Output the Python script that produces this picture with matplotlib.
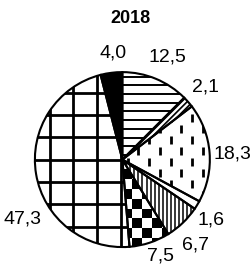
import numpy as np
import matplotlib
matplotlib.use("Agg")
import matplotlib.pyplot as plt
from matplotlib.patches import Rectangle

plt.rcParams['font.family'] = ['Liberation Sans', 'DejaVu Sans']
plt.rcParams['hatch.linewidth'] = 1.2

# Dane wykresu
values = [12.5, 2.1, 18.3, 1.6, 6.7, 7.5, 47.3, 4.0]
labels = ["12,5", "2,1", "18,3", "1,6", "6,7", "7,5", "47,3", "4,0"]
title = "2018"

faces = ['white', 'white', 'white', 'white', 'white', 'white', 'white', 'black']
label_dist = [1.28, 1.26, 1.26, 1.23, 1.29, 1.19, 1.33, 1.22]
label_shift = [-1.4, 0, -1.8, -3, -3.2, 3.5, 21, -2]

fig = plt.figure(figsize=(2.51, 2.66), dpi=100)
ax = fig.add_axes([0.139, 0.071, 0.697, 0.658])

wedges, texts = ax.pie(values, startangle=90, counterclock=False, radius=1,
                       colors=faces, labels=labels, labeldistance=1.2,
                       wedgeprops=dict(edgecolor='black', linewidth=1.5),
                       textprops=dict(fontsize=14))

# pozycje etykiet
for w, t, d, sh in zip(wedges, texts, label_dist, label_shift):
    ang = np.deg2rad((w.theta1 + w.theta2) / 2 + sh)
    t.set_position((d * np.cos(ang), d * np.sin(ang)))
    t.set_ha('center')
    t.set_va('center')


def clipped(line, wedge):
    line.set_clip_path(wedge)
    line.set_zorder(2)


# poziome linie - 12,5
for y in np.arange(-1.0, 1.0, 0.1):
    ln, = ax.plot([-1, 1], [y + 0.05, y + 0.05], color='black', lw=1.4)
    clipped(ln, wedges[0])

# ukosne - 2,1
wedges[1].set_hatch('//////')

# kreski pionowe - 18,3
for k, x in enumerate(np.arange(0.92, 0.0, -0.123)):
    off = 0.125 * (k % 2)
    for yc in np.arange(-1.15, 1.0, 0.25):
        ln, = ax.plot([x, x], [yc + off - 0.045, yc + off + 0.045], color='black',
                      lw=2.0, solid_capstyle='butt')
        clipped(ln, wedges[2])

# pionowe linie - 6,7
for x in np.arange(0.0, 1.0, 0.046):
    ln, = ax.plot([x, x], [-1, 0], color='black', lw=1.1)
    clipped(ln, wedges[4])

# szachownica - 7,5
s = 0.112
for i in range(-10, 10):
    for j in range(-10, 10):
        if (i + j) % 2 == 0:
            r = Rectangle((i * s, j * s), s, s, facecolor='black', edgecolor='none', zorder=2)
            ax.add_patch(r)
            r.set_clip_path(wedges[5])

# kratka - 47,3
for x in np.arange(-0.83, 0.3, 0.27):
    ln, = ax.plot([x, x], [-1, 1], color='black', lw=2.0)
    clipped(ln, wedges[6])
for y in np.arange(-1.02, 1.0, 0.255):
    ln, = ax.plot([-1, 1], [y, y], color='black', lw=2.0)
    clipped(ln, wedges[6])

for i, w in enumerate(wedges):
    w.set_zorder(3)
    if i != 7:
        w.set_facecolor('none')

ax.set_xlim(-1.0, 1.0)
ax.set_ylim(-1.0, 1.0)
ax.set_aspect('equal')

fig.text(0.518, 0.932, title, ha='center', va='center', fontsize=13, fontweight='bold')

fig.savefig("out.png", dpi=100)
